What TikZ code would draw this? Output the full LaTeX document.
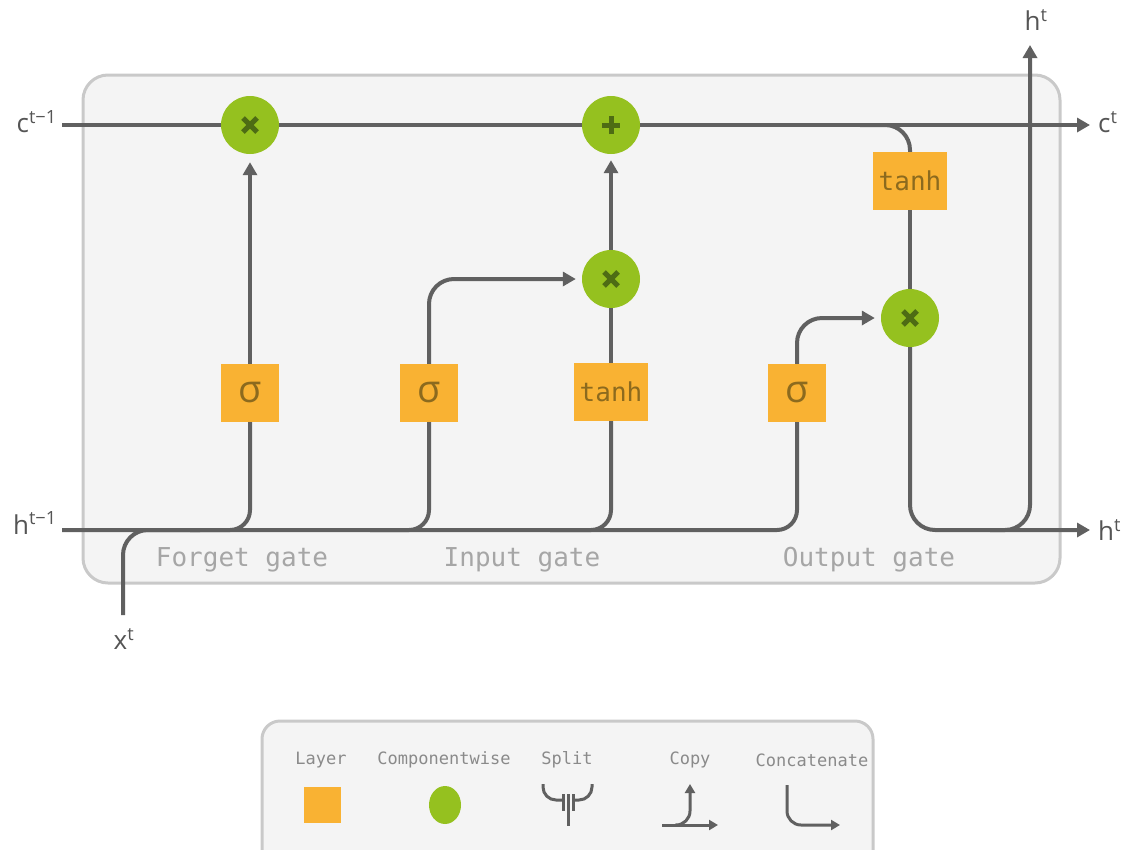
\documentclass[tikz,border=0pt]{standalone}
\usepackage{fontspec}
\setmainfont{Open Sans}
\newfontfamily\monofont{DejaVu Sans Mono}
\usetikzlibrary{arrows.meta}

\definecolor{linegray}{HTML}{606060}
\definecolor{framegray}{HTML}{C9C9C9}
\definecolor{cellbg}{HTML}{F4F4F4}
\definecolor{layerorange}{HTML}{F9B233}
\definecolor{layertext}{HTML}{8C6A1E}
\definecolor{opgreen}{HTML}{95C11F}
\definecolor{markgreen}{HTML}{4E6C14}
\definecolor{gatetext}{HTML}{A6A6A6}
\definecolor{keytext}{HTML}{8A8A8A}
\definecolor{labeltext}{HTML}{555555}

\newcommand{\sig}[2]{#1\textsuperscript{#2}}

\begin{document}
\begin{tikzpicture}[x=1pt,y=-1pt,>={Triangle[length=13pt,width=14pt]}]
\tikzset{
  wire/.style={draw=linegray, line width=4pt},
  keywire/.style={draw=linegray, line width=3pt, >={Triangle[length=9pt,width=10pt]}},
  layer/.style={fill=layerorange, minimum width=58pt, minimum height=58pt, inner sep=0pt,
    font=\monofont\fontsize{26}{30}\selectfont, text=layertext},
  sigma/.style={layer, font=\fontsize{38}{40}\selectfont},
  pointwise/.style={circle, fill=opgreen, minimum size=58pt, inner sep=0pt},
  times/.style={pointwise, path picture={
    \draw[markgreen, line width=5pt] ([shift={(-7pt,-7pt)}]path picture bounding box.center) -- ++(14pt,14pt)
      ([shift={(-7pt,7pt)}]path picture bounding box.center) -- ++(14pt,-14pt);}},
  plus/.style={pointwise, path picture={
    \draw[markgreen, line width=5pt] ([shift={(-9pt,0pt)}]path picture bounding box.center) -- ++(18pt,0pt)
      ([shift={(0pt,-9pt)}]path picture bounding box.center) -- ++(0pt,18pt);}},
  gatename/.style={font=\monofont\fontsize{26}{30}\selectfont, text=gatetext},
  keyname/.style={font=\monofont\fontsize{17}{20}\selectfont, text=keytext},
  io/.style={font=\fontsize{26}{30}\selectfont, text=labeltext, inner sep=0pt}
}
\useasboundingbox (0,0) rectangle (1126,849);

% cell frame and legend frame
\draw[framegray, fill=cellbg, line width=3pt, rounded corners=25pt] (83,75) rectangle (1060,583);
\draw[framegray, fill=cellbg, line width=3pt, rounded corners=18pt] (262,721) rectangle (873,880);

% layers and pointwise ops
\node[times] (mulF) at (250,125) {};
\node[plus]  (add)  at (611,125) {};
\node[times] (mulI) at (611,279) {};
\node[times] (mulO) at (910,318) {};
\node[sigma] (sigF) at (250,393) {σ};
\node[sigma] (sigI) at (429,393) {σ};
\node[layer, minimum width=74pt] (tanhI) at (611,392) {tanh};
\node[sigma] (sigO) at (797,393) {σ};
\node[layer, minimum width=74pt] (tanhC) at (910,181) {tanh};

% inputs, outputs and branch points
\coordinate (cin)  at (62,125);
\coordinate (cout) at (1090,125);
\coordinate (cbr)  at (860,125);
\coordinate (hin)  at (62,530);
\coordinate (hout) at (1090,530);
\coordinate (hbr)  at (990,530);
\coordinate (htop) at (1030,45);
\coordinate (xin)  at (123,615);
\coordinate (xbr)  at (200,530);
\coordinate (brF)  at (190,530);
\coordinate (brI)  at (370,530);
\coordinate (brT)  at (550,530);

\node[io, anchor=east] (lcin) at (57,122) {\sig{c}{t−1}};
\node[io, anchor=east] (lhin) at (57,523) {\sig{h}{t−1}};
\node[io] (lx) at (124,639) {\sig{x}{t}};
\node[io, anchor=west] (lcout) at (1098,122) {\sig{c}{t}};
\node[io, anchor=west] (lhout) at (1098,530) {\sig{h}{t}};
\node[io] (lhtop) at (1036,20) {\sig{h}{t}};

% cell state
\draw[wire] (cin) -- (mulF) -- (add);
\draw[wire,->] (add) -- (cout);
\draw[wire, rounded corners=25pt] (cbr) -| (tanhC.north);

% hidden state and input
\draw[wire, rounded corners=20pt] (hin) -| (sigO.south);
\draw[wire, rounded corners=25pt] (xin) |- (xbr);
\draw[wire, rounded corners=20pt] (brF) -| (sigF.south);
\draw[wire, rounded corners=20pt] (brI) -| (sigI.south);
\draw[wire, rounded corners=20pt] (brT) -| (tanhI.south);

% forget gate
\draw[wire,->,shorten >=8pt] (sigF) -- (mulF);
% input gate
\draw[wire,->,shorten >=6pt, rounded corners=25pt] (sigI.north) |- (mulI.west);
\draw[wire] (tanhI) -- (mulI);
\draw[wire,->,shorten >=6pt] (mulI) -- (add);
% output gate
\draw[wire,->,shorten >=6pt, rounded corners=25pt] (sigO.north) |- (mulO.west);
\draw[wire] (tanhC) -- (mulO);
\draw[wire,->, rounded corners=25pt] (mulO.south) |- (hout);
\draw[wire,->, rounded corners=25pt] (hbr) -| (htop);

\node[gatename] (gF) at (242,560) {Forget gate};
\node[gatename] (gI) at (522,560) {Input gate};
\node[gatename] (gO) at (869,560) {Output gate};

% legend
\node[keyname] (kLayer) at (321,760) {Layer};
\node[keyname] (kComp)  at (444,760) {Componentwise};
\node[keyname] (kSplit) at (567,760) {Split};
\node[keyname] (kCopy)  at (690,760) {Copy};
\node[keyname] (kCat)   at (812,760) {Concatenate};
\fill[layerorange] (304,787) rectangle (341,823);
\fill[opgreen] (445,805) ellipse (16pt and 19pt);
\draw[keywire, rounded corners=13pt] (543,784) |- (563,800);
\draw[keywire, rounded corners=13pt] (592,784) |- (573,800);
\draw[keywire] (563,794) -- (563,811) (573,794) -- (573,811) (568,794) -- (568,826);
\draw[keywire,->] (662,825) -- (718,825);
\draw[keywire,->, rounded corners=14pt] (675,825) -| (690,784);
\draw[keywire,->, rounded corners=14pt] (787,785) |- (840,825);
\end{tikzpicture}
\end{document}
